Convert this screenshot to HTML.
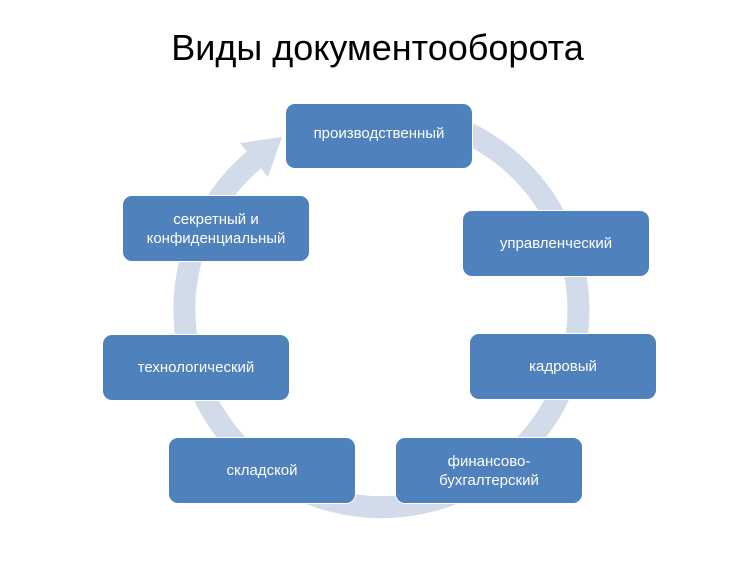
<!DOCTYPE html>
<html><head><meta charset="utf-8"><style>
body{margin:0;width:755px;height:579px;background:#fff;position:relative;overflow:hidden;font-family:"Liberation Sans",sans-serif}
.t{position:absolute;left:0;width:755px;top:27px;text-align:center;font-size:36px;color:#000}
.b{position:absolute;width:186px;height:65px;background:#4f81bd;border-radius:9px;color:#fff;font-size:15px;display:flex;align-items:center;justify-content:center;text-align:center;line-height:19px;box-shadow:0 0 0 1px #fff}
</style></head><body>
<svg width="755" height="579" style="position:absolute;left:0;top:0">
<path d="M433 120 A197 197 0 1 1 255 159" fill="none" stroke="#d2dbea" stroke-width="22"/>
<polygon points="282,137 240,143 268,177" fill="#d2dbea"/>
</svg>
<div class="t">Виды документооборота</div>
<div class="b" style="left:286px;top:104px;align-items:flex-start;height:64px"><span style="margin-top:20px">производственный</span></div>
<div class="b" style="left:123px;top:196px">секретный и<br>конфиденциальный</div>
<div class="b" style="left:463px;top:211px">управленческий</div>
<div class="b" style="left:103px;top:335px">технологический</div>
<div class="b" style="left:470px;top:334px">кадровый</div>
<div class="b" style="left:169px;top:438px">складской</div>
<div class="b" style="left:396px;top:438px">финансово-<br>бухгалтерский</div>
</body></html>
